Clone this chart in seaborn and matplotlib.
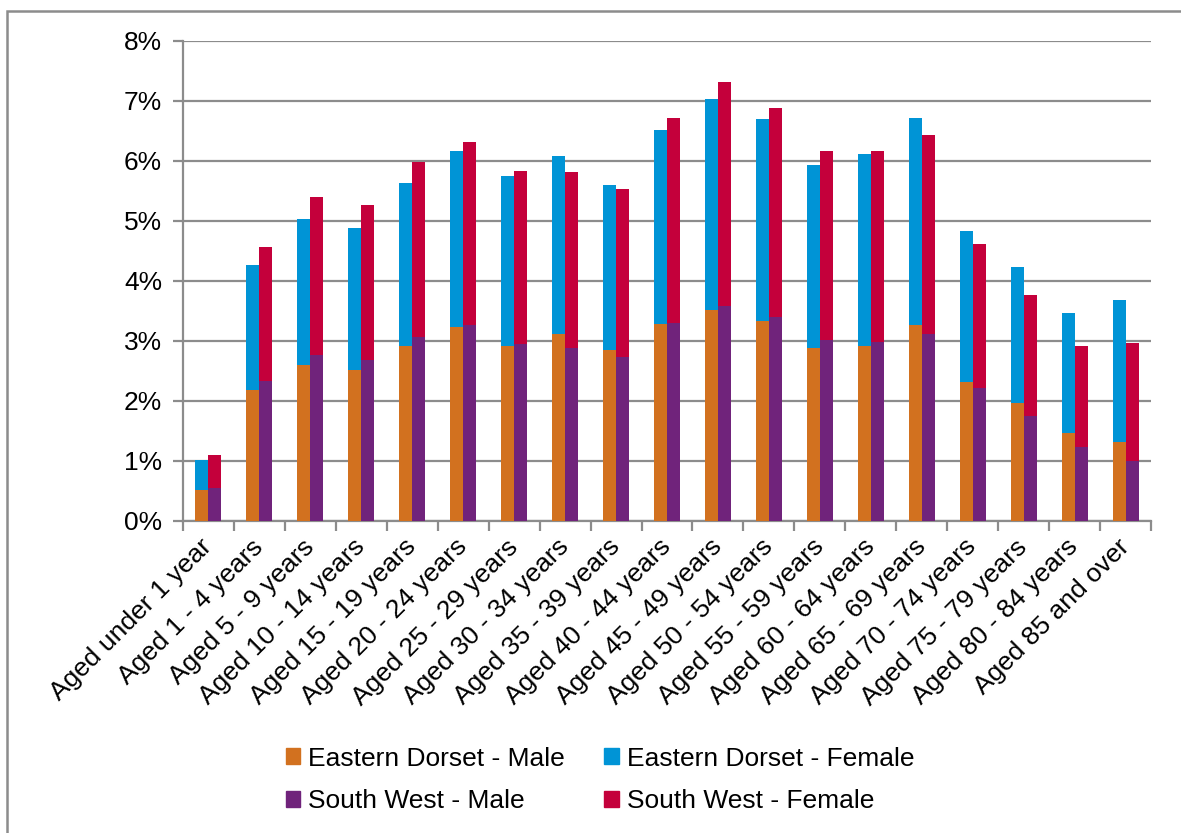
import numpy as np
import pandas as pd
import matplotlib
matplotlib.use("Agg")
import matplotlib.pyplot as plt
from matplotlib.patches import Rectangle, Patch
from matplotlib.ticker import FixedLocator, FuncFormatter
import seaborn as sns

categories = ["Aged under 1 year", "Aged 1 - 4 years", "Aged 5 - 9 years", "Aged 10 - 14 years",
              "Aged 15 - 19 years", "Aged 20 - 24 years", "Aged 25 - 29 years", "Aged 30 - 34 years",
              "Aged 35 - 39 years", "Aged 40 - 44 years", "Aged 45 - 49 years", "Aged 50 - 54 years",
              "Aged 55 - 59 years", "Aged 60 - 64 years", "Aged 65 - 69 years", "Aged 70 - 74 years",
              "Aged 75 - 79 years", "Aged 80 - 84 years", "Aged 85 and over"]
ed_male = [0.52, 2.18, 2.60, 2.52, 2.91, 3.24, 2.91, 3.11, 2.85, 3.29, 3.52, 3.34, 2.89, 2.91, 3.26, 2.32, 1.96, 1.46, 1.32]
ed_female = [0.49, 2.09, 2.44, 2.37, 2.73, 2.92, 2.84, 2.97, 2.75, 3.23, 3.52, 3.36, 3.05, 3.20, 3.46, 2.51, 2.27, 2.01, 2.36]
sw_male = [0.55, 2.33, 2.76, 2.69, 3.06, 3.27, 2.95, 2.89, 2.73, 3.30, 3.58, 3.40, 3.01, 2.98, 3.12, 2.22, 1.75, 1.23, 1.00]
sw_female = [0.55, 2.23, 2.64, 2.58, 2.93, 3.04, 2.89, 2.92, 2.80, 3.42, 3.73, 3.49, 3.16, 3.19, 3.31, 2.40, 2.02, 1.69, 1.96]
regions = ["Eastern Dorset", "South West"]
series_labels = ["Eastern Dorset - Male", "Eastern Dorset - Female", "South West - Male", "South West - Female"]
yticks = [0, 1, 2, 3, 4, 5, 6, 7, 8]

c_ed_m, c_ed_f, c_sw_m, c_sw_f = "#D2711F", "#0094D6", "#70237B", "#C4003B"

sns.set_style("white")
plt.rcParams["font.family"] = ["Liberation Sans", "DejaVu Sans"]
plt.rcParams["text.color"] = "black"
plt.rcParams["xtick.labelcolor"] = "black"
plt.rcParams["ytick.labelcolor"] = "black"

df = pd.DataFrame({
    "cat": categories * 2,
    "region": [regions[0]] * len(categories) + [regions[1]] * len(categories),
    "male": ed_male + sw_male,
    "female": ed_female + sw_female,
})
df["total"] = df["male"] + df["female"]

W, H = 1181, 833
fig = plt.figure(figsize=(W / 100, H / 100), dpi=100)
ax = fig.add_axes([183 / W, 1 - 521 / H, (1151 - 183) / W, (521 - 41) / H])

sns.barplot(data=df, x="cat", y="total", hue="region", order=categories, hue_order=regions,
            palette=[c_ed_f, c_sw_f], saturation=1, width=0.51, dodge=True, linewidth=0,
            errorbar=None, legend=False, ax=ax, zorder=3)
sns.barplot(data=df, x="cat", y="male", hue="region", order=categories, hue_order=regions,
            palette=[c_ed_m, c_sw_m], saturation=1, width=0.51, dodge=True, linewidth=0,
            errorbar=None, legend=False, ax=ax, zorder=4)

grid_c = "#8C8C8C"
fs = 19
ax.set_ylim(0, 8)
ax.set_xlim(-0.5, len(categories) - 0.5)
ax.set_yticks(yticks)
ax.yaxis.set_major_formatter(FuncFormatter(lambda v, p: f"{v:.0f}%"))
ax.grid(axis="y", color=grid_c, linewidth=1.6, zorder=0)
ax.set_axisbelow(True)
for s in ["top", "right"]:
    ax.spines[s].set_visible(False)
for s in ["left", "bottom"]:
    ax.spines[s].set_color(grid_c)
    ax.spines[s].set_linewidth(1.6)
ax.set_xlabel("")
ax.set_ylabel("")

ax.tick_params(axis="y", which="major", length=7, width=1.6, color=grid_c, labelsize=fs, pad=8,
               left=True, labelcolor="black")
ax.tick_params(axis="x", which="major", length=0, labelsize=fs, pad=16, labelcolor="black")
ax.xaxis.set_minor_locator(FixedLocator(np.arange(-0.5, len(categories), 1.0)))
ax.tick_params(axis="x", which="minor", length=7, width=1.6, color=grid_c, bottom=True)
ax.set_xticks(range(len(categories)))
ax.set_xticklabels(categories, rotation=45, ha="right", rotation_mode="anchor", va="center")

handles = [Patch(color=c_ed_m), Patch(color=c_sw_m), Patch(color=c_ed_f), Patch(color=c_sw_f)]
labels = [series_labels[0], series_labels[2], series_labels[1], series_labels[3]]
fig.legend(handles, labels, ncol=2, loc="center", bbox_to_anchor=(600 / W, 1 - 780 / H),
           frameon=False, fontsize=fs, handlelength=0.55, handleheight=0.55,
           handletextpad=0.3, columnspacing=1.5, labelspacing=0.7)

fig.patches.append(Rectangle((7 / W, -0.1), 1.2, 1 - 11 / H + 0.1, transform=fig.transFigure,
                             fill=False, edgecolor=grid_c, linewidth=1.8))

fig.savefig("out.png", dpi=100)
